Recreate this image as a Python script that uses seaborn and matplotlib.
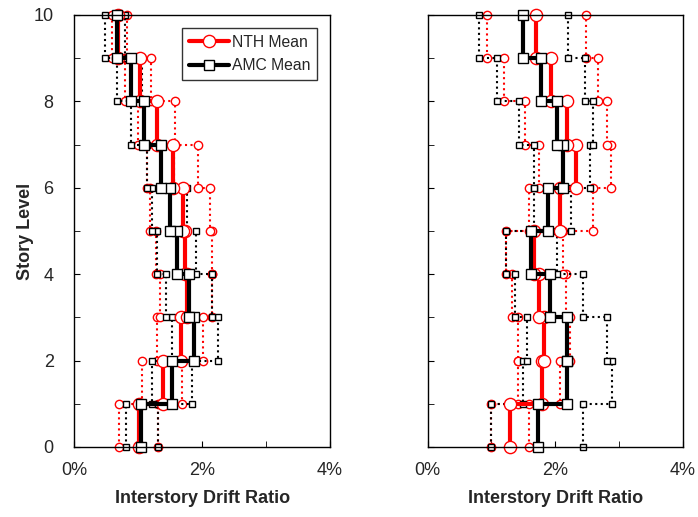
import numpy as np
import pandas as pd
import seaborn as sns
import matplotlib.pyplot as plt
from matplotlib.ticker import MultipleLocator, FuncFormatter

# story numbers (drift of story i spans level i-1 to i), values in %
stories = list(range(1, 11))

# --- left panel ---
left_nth_mean = [1.01, 1.38, 1.67, 1.765, 1.73, 1.70, 1.55, 1.29, 1.02, 0.685]
left_nth_low = [0.69, 1.05, 1.29, 1.34, 1.275, 1.18, 1.13, 0.99, 0.79, 0.58]
left_nth_high = [1.31, 1.68, 2.02, 2.16, 2.16, 2.12, 1.94, 1.57, 1.20, 0.83]
left_amc_mean = [1.04, 1.53, 1.875, 1.80, 1.61, 1.49, 1.36, 1.09, 0.88, 0.66]
left_amc_low = [0.80, 1.21, 1.53, 1.44, 1.285, 1.21, 1.13, 0.885, 0.66, 0.48]
left_amc_high = [1.31, 1.84, 2.25, 2.16, 1.91, 1.76, 1.56, 1.29, 1.05, 0.79]

# --- right panel ---
right_nth_mean = [1.29, 1.79, 1.82, 1.75, 1.67, 2.08, 2.32, 2.18, 1.93, 1.70]
right_nth_low = [1.00, 1.42, 1.42, 1.32, 1.23, 1.59, 1.75, 1.53, 1.20, 0.93]
right_nth_high = [1.59, 2.08, 2.23, 2.17, 2.125, 2.59, 2.88, 2.81, 2.67, 2.48]
right_amc_mean = [1.73, 2.19, 2.19, 1.91, 1.62, 1.89, 2.12, 2.03, 1.78, 1.49]
right_amc_low = [1.00, 1.49, 1.55, 1.37, 1.23, 1.66, 1.66, 1.44, 1.08, 0.81]
right_amc_high = [2.44, 2.89, 2.81, 2.44, 2.02, 2.24, 2.54, 2.585, 2.46, 2.20]


def profile(vals):
    # step shape: constant drift over each story height
    x = np.repeat(vals, 2)
    y = np.array([[s - 1, s] for s in stories]).ravel()
    return pd.DataFrame({"drift": x, "level": y})


sns.set_style("white")
plt.rcParams["font.family"] = ["Liberation Sans", "DejaVu Sans"]

fig = plt.figure(figsize=(6.98, 5.17), dpi=100)
ax1 = fig.add_axes([0.1067, 0.1354, 0.366, 0.8356])
ax2 = fig.add_axes([0.6125, 0.1354, 0.366, 0.8356])

panels = [
    (ax1, left_nth_mean, left_nth_low, left_nth_high, left_amc_mean, left_amc_low, left_amc_high),
    (ax2, right_nth_mean, right_nth_low, right_nth_high, right_amc_mean, right_amc_low, right_amc_high),
]

for i, (ax, nm, nl, nh, am, al, ah) in enumerate(panels):
    for vals, col, mk, ms in [(nl, "red", "o", 6.0), (nh, "red", "o", 6.0),
                              (al, "black", "s", 4.8), (ah, "black", "s", 4.8)]:
        sns.lineplot(data=profile(vals), x="drift", y="level", sort=False, estimator=None,
                     ax=ax, color=col, lw=1.5, ls=":", marker=mk, ms=ms,
                     mfc="white", mec=col, mew=1.0, legend=False)
    sns.lineplot(data=profile(nm), x="drift", y="level", sort=False, estimator=None,
                 ax=ax, color="red", lw=3, marker="o", ms=8.8, mfc="white",
                 mec="red", mew=1.0, label="NTH Mean" if i == 0 else None)
    sns.lineplot(data=profile(am), x="drift", y="level", sort=False, estimator=None,
                 ax=ax, color="black", lw=3, marker="s", ms=7.0, mfc="white",
                 mec="black", mew=1.0, label="AMC Mean" if i == 0 else None)

    ax.set_xlim(0, 4)
    ax.set_ylim(0, 10)
    ax.xaxis.set_major_locator(MultipleLocator(2))
    ax.xaxis.set_minor_locator(MultipleLocator(1))
    ax.yaxis.set_major_locator(MultipleLocator(2))
    ax.yaxis.set_minor_locator(MultipleLocator(1))
    ax.xaxis.set_major_formatter(FuncFormatter(lambda v, p: f"{v:.0f}%"))
    ax.tick_params(which="both", direction="in", bottom=True, left=True,
                   top=False, right=False, labelsize=13, color="black", length=4)
    ax.tick_params(axis="x", pad=11)
    ax.tick_params(axis="y", pad=15)
    for sp in ax.spines.values():
        sp.set_color("black")
        sp.set_linewidth(1.0)
    ax.set_xlabel("Interstory Drift Ratio", fontsize=13, fontweight="bold", labelpad=8)
    ax.set_ylabel("")
    for m in ax.lines:
        m.set_clip_on(False)

ax1.set_ylabel("Story Level", fontsize=13, fontweight="bold", labelpad=0)
ax2.set_yticklabels([])

leg = ax1.legend(loc="upper right", bbox_to_anchor=(1, 1), borderaxespad=0.8,
                 fontsize=11.3, frameon=True, fancybox=False, edgecolor="black",
                 handlelength=2.5, borderpad=0.45, labelspacing=0.55, handletextpad=0.2)
leg.get_frame().set_linewidth(1.0)

fig.savefig("out.png", dpi=100)
